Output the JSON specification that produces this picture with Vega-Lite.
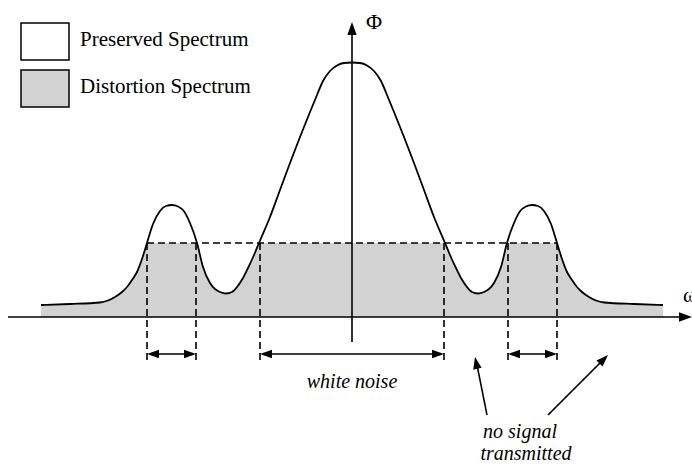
{
  "$schema": "https://vega.github.io/schema/vega-lite/v6.json",
  "width": 692,
  "height": 466,
  "padding": 0,
  "autosize": {"type": "none"},
  "background": "white",
  "config": {"view": {"stroke": null}},
  "datasets": {
    "curve": [
      {"x": 41, "y": 305}, {"x": 70, "y": 304}, {"x": 100, "y": 302.5}, {"x": 108, "y": 300.5}, {"x": 115, "y": 297},
      {"x": 122, "y": 292}, {"x": 127, "y": 287}, {"x": 132, "y": 280}, {"x": 137, "y": 272}, {"x": 142, "y": 259},
      {"x": 147, "y": 243}, {"x": 153, "y": 224}, {"x": 160, "y": 211}, {"x": 166, "y": 206}, {"x": 172, "y": 205},
      {"x": 178, "y": 206.5}, {"x": 183, "y": 210}, {"x": 190, "y": 223}, {"x": 197, "y": 243}, {"x": 203, "y": 267},
      {"x": 210, "y": 283}, {"x": 215, "y": 289}, {"x": 220, "y": 292}, {"x": 226, "y": 293.5}, {"x": 232, "y": 292},
      {"x": 237, "y": 287}, {"x": 243, "y": 278}, {"x": 249, "y": 266}, {"x": 254, "y": 255}, {"x": 259, "y": 243},
      {"x": 270, "y": 217}, {"x": 280, "y": 190}, {"x": 290, "y": 163}, {"x": 300, "y": 137}, {"x": 310, "y": 112},
      {"x": 317, "y": 95}, {"x": 323, "y": 81}, {"x": 330, "y": 71}, {"x": 337, "y": 65.5}, {"x": 344, "y": 63},
      {"x": 352, "y": 62.5},
      {"x": 360, "y": 63}, {"x": 367, "y": 65.5}, {"x": 374, "y": 71}, {"x": 381, "y": 81}, {"x": 387, "y": 95},
      {"x": 394, "y": 112}, {"x": 404, "y": 137}, {"x": 414, "y": 163}, {"x": 424, "y": 190}, {"x": 434, "y": 217},
      {"x": 445, "y": 243}, {"x": 450, "y": 255}, {"x": 455, "y": 266}, {"x": 461, "y": 278}, {"x": 467, "y": 287},
      {"x": 472, "y": 292}, {"x": 478, "y": 293.5}, {"x": 484, "y": 292}, {"x": 489, "y": 289}, {"x": 494, "y": 283},
      {"x": 501, "y": 267}, {"x": 507, "y": 243}, {"x": 514, "y": 223}, {"x": 521, "y": 210}, {"x": 526, "y": 206.5},
      {"x": 532, "y": 205}, {"x": 538, "y": 206}, {"x": 544, "y": 211}, {"x": 551, "y": 224}, {"x": 557, "y": 243},
      {"x": 562, "y": 259}, {"x": 567, "y": 272}, {"x": 572, "y": 280}, {"x": 577, "y": 287}, {"x": 582, "y": 292},
      {"x": 589, "y": 297}, {"x": 596, "y": 300.5}, {"x": 604, "y": 302.5}, {"x": 634, "y": 304}, {"x": 663, "y": 305}
    ],
    "dist": [
      {"x": 41, "y": 305}, {"x": 70, "y": 304}, {"x": 100, "y": 302.5}, {"x": 108, "y": 300.5}, {"x": 115, "y": 297},
      {"x": 122, "y": 292}, {"x": 127, "y": 287}, {"x": 132, "y": 280}, {"x": 137, "y": 272}, {"x": 142, "y": 259},
      {"x": 147, "y": 243}, {"x": 197, "y": 243}, {"x": 203, "y": 267},
      {"x": 210, "y": 283}, {"x": 215, "y": 289}, {"x": 220, "y": 292}, {"x": 226, "y": 293.5}, {"x": 232, "y": 292},
      {"x": 237, "y": 287}, {"x": 243, "y": 278}, {"x": 249, "y": 266}, {"x": 254, "y": 255}, {"x": 259, "y": 243},
      {"x": 445, "y": 243}, {"x": 450, "y": 255}, {"x": 455, "y": 266}, {"x": 461, "y": 278}, {"x": 467, "y": 287},
      {"x": 472, "y": 292}, {"x": 478, "y": 293.5}, {"x": 484, "y": 292}, {"x": 489, "y": 289}, {"x": 494, "y": 283},
      {"x": 501, "y": 267}, {"x": 507, "y": 243}, {"x": 557, "y": 243},
      {"x": 562, "y": 259}, {"x": 567, "y": 272}, {"x": 572, "y": 280}, {"x": 577, "y": 287}, {"x": 582, "y": 292},
      {"x": 589, "y": 297}, {"x": 596, "y": 300.5}, {"x": 604, "y": 302.5}, {"x": 634, "y": 304}, {"x": 663, "y": 305}
    ],
    "segs": [
      {"kind": "dashed", "x": 147, "y": 243, "x2": 557, "y2": 243},
      {"kind": "dashed", "x": 147, "y": 243, "x2": 147, "y2": 360},
      {"kind": "dashed", "x": 196, "y": 243, "x2": 196, "y2": 360},
      {"kind": "dashed", "x": 260, "y": 243, "x2": 260, "y2": 360},
      {"kind": "dashed", "x": 444, "y": 243, "x2": 444, "y2": 360},
      {"kind": "dashed", "x": 508, "y": 243, "x2": 508, "y2": 360},
      {"kind": "dashed", "x": 557, "y": 243, "x2": 557, "y2": 360},
      {"kind": "solid", "x": 8, "y": 317, "x2": 684, "y2": 317},
      {"kind": "solid", "x": 352, "y": 342, "x2": 352, "y2": 32},
      {"kind": "solid", "x": 152, "y": 354, "x2": 190, "y2": 354},
      {"kind": "solid", "x": 265, "y": 354, "x2": 439, "y2": 354},
      {"kind": "solid", "x": 513, "y": 354, "x2": 552, "y2": 354},
      {"kind": "solid", "x": 487, "y": 415, "x2": 477, "y2": 365},
      {"kind": "solid", "x": 548, "y": 415, "x2": 602, "y2": 361}
    ],
    "heads": [
      {"x": 692, "y": 317, "angle": 0, "big": "axis"},
      {"x": 352, "y": 22, "angle": 270, "big": "axis"},
      {"x": 147, "y": 354, "angle": 180, "big": "dim"},
      {"x": 196, "y": 354, "angle": 0, "big": "dim"},
      {"x": 260, "y": 354, "angle": 180, "big": "dim"},
      {"x": 444, "y": 354, "angle": 0, "big": "dim"},
      {"x": 508, "y": 354, "angle": 180, "big": "dim"},
      {"x": 557, "y": 354, "angle": 0, "big": "dim"},
      {"x": 475, "y": 357, "angle": 258.3, "big": "dim"},
      {"x": 608, "y": 355, "angle": 315, "big": "dim"}
    ],
    "boxes": [
      {"kind": "Preserved", "x": 21, "y": 23, "x2": 69, "y2": 60},
      {"kind": "Distortion", "x": 21, "y": 70, "x2": 69, "y2": 107}
    ],
    "italicLabels": [
      {"t": "white noise", "x": 352, "y": 388},
      {"t": "no signal", "x": 520, "y": 438},
      {"t": "transmitted", "x": 526, "y": 460}
    ],
    "centerLabels": [
      {"t": "Φ", "x": 374, "y": 29}
    ],
    "leftLabels": [
      {"t": "ω", "x": 683, "y": 302},
      {"t": "Preserved Spectrum", "x": 80, "y": 46},
      {"t": "Distortion Spectrum", "x": 80, "y": 93}
    ]
  },
  "layer": [
    {
      "data": {"name": "dist"},
      "mark": {"type": "area", "interpolate": "monotone", "color": "#d2d2d2"},
      "encoding": {
        "x": {"field": "x", "type": "quantitative", "scale": {"domain": [0, 692], "nice": false, "zero": false}, "axis": null},
        "y": {"field": "y", "type": "quantitative", "scale": {"domain": [0, 466], "reverse": true, "nice": false, "zero": false}, "axis": null},
        "y2": {"datum": 317}
      }
    },
    {
      "data": {"name": "boxes"},
      "mark": {"type": "rect", "stroke": "black", "strokeWidth": 1.5},
      "encoding": {
        "x": {"field": "x", "type": "quantitative"},
        "x2": {"field": "x2"},
        "y": {"field": "y", "type": "quantitative"},
        "y2": {"field": "y2"},
        "fill": {"field": "kind", "type": "nominal", "scale": {"domain": ["Preserved", "Distortion"], "range": ["white", "#d2d2d2"]}, "legend": null}
      }
    },
    {
      "data": {"name": "curve"},
      "mark": {"type": "line", "interpolate": "monotone", "color": "black", "strokeWidth": 1.8},
      "encoding": {
        "x": {"field": "x", "type": "quantitative"},
        "y": {"field": "y", "type": "quantitative"}
      }
    },
    {
      "data": {"name": "segs"},
      "mark": {"type": "rule", "color": "black", "strokeWidth": 1.6},
      "encoding": {
        "x": {"field": "x", "type": "quantitative"},
        "y": {"field": "y", "type": "quantitative"},
        "x2": {"field": "x2"},
        "y2": {"field": "y2"},
        "strokeDash": {"field": "kind", "type": "nominal", "scale": {"domain": ["solid", "dashed"], "range": [[1, 0], [7, 4]]}, "legend": null}
      }
    },
    {
      "data": {"name": "heads"},
      "mark": {"type": "point", "filled": true, "color": "black", "opacity": 1, "shape": "M0,0L-1,-0.36L-1,0.36Z", "strokeWidth": 0},
      "encoding": {
        "x": {"field": "x", "type": "quantitative"},
        "y": {"field": "y", "type": "quantitative"},
        "angle": {"field": "angle", "type": "quantitative", "scale": null},
        "size": {"field": "big", "type": "nominal", "scale": {"domain": ["axis", "dim"], "range": [676, 576]}, "legend": null}
      }
    },
    {
      "data": {"name": "italicLabels"},
      "mark": {"type": "text", "font": "Liberation Serif, Times New Roman, serif", "fontStyle": "italic", "fontSize": 20, "align": "center", "baseline": "alphabetic", "color": "black"},
      "encoding": {
        "x": {"field": "x", "type": "quantitative"},
        "y": {"field": "y", "type": "quantitative"},
        "text": {"field": "t"}
      }
    },
    {
      "data": {"name": "centerLabels"},
      "mark": {"type": "text", "font": "Liberation Serif, Times New Roman, serif", "fontSize": 22, "align": "center", "baseline": "alphabetic", "color": "black"},
      "encoding": {
        "x": {"field": "x", "type": "quantitative"},
        "y": {"field": "y", "type": "quantitative"},
        "text": {"field": "t"}
      }
    },
    {
      "data": {"name": "leftLabels"},
      "mark": {"type": "text", "font": "Liberation Serif, Times New Roman, serif", "fontSize": 21, "align": "left", "baseline": "alphabetic", "color": "black"},
      "encoding": {
        "x": {"field": "x", "type": "quantitative"},
        "y": {"field": "y", "type": "quantitative"},
        "text": {"field": "t"}
      }
    }
  ]
}
